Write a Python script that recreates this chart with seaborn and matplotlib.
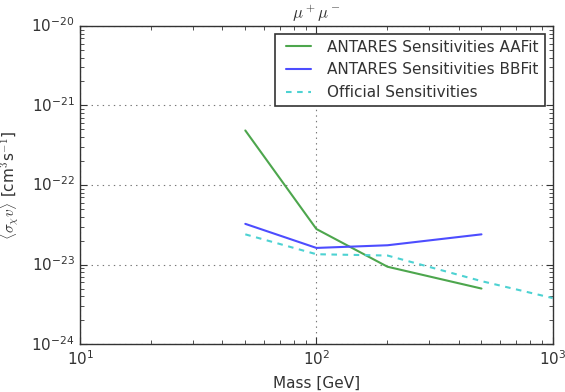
import matplotlib
matplotlib.use("Agg")
import matplotlib.pyplot as plt
import pandas as pd
import seaborn as sns
from matplotlib.ticker import LogLocator, NullFormatter

# sensitivities
mass_aafit = [50, 100, 200, 500]
sv_aafit = [4.85e-22, 2.8e-23, 9.4e-24, 5.0e-24]

mass_bbfit = [50, 100, 200, 500]
sv_bbfit = [3.25e-23, 1.62e-23, 1.75e-23, 2.4e-23]

mass_official = [50, 100, 200, 500, 1000]
sv_official = [2.4e-23, 1.35e-23, 1.3e-23, 6.2e-24, 3.8e-24]

labels = [
    "ANTARES Sensitivities AAFit",
    "ANTARES Sensitivities BBFit",
    "Official Sensitivities",
]

df = pd.concat(
    [
        pd.DataFrame({"mass": mass_aafit, "sv": sv_aafit, "set": labels[0]}),
        pd.DataFrame({"mass": mass_bbfit, "sv": sv_bbfit, "set": labels[1]}),
        pd.DataFrame({"mass": mass_official, "sv": sv_official, "set": labels[2]}),
    ]
)

plt.style.use("classic")
sns.set_style("ticks")
plt.rcParams["font.family"] = ["DejaVu Sans"]
plt.rcParams["text.color"] = "#333333"

fig, ax = plt.subplots(figsize=(5.65, 3.92), dpi=100)
fig.subplots_adjust(left=0.142, right=0.978, top=0.934, bottom=0.122)

palette = {labels[0]: "#4da64d", labels[1]: "#4d4dff", labels[2]: "#4dd2d2"}
dashes = {labels[0]: "", labels[1]: "", labels[2]: (4, 4)}
sns.lineplot(
    data=df, x="mass", y="sv", hue="set", style="set",
    palette=palette, dashes=dashes, linewidth=1.5, ax=ax, sort=False,
)

ax.set_xscale("log")
ax.set_yscale("log")
ax.set_xlim(10, 1000)
ax.set_ylim(1e-24, 1e-20)
for axis in (ax.xaxis, ax.yaxis):
    axis.set_major_locator(LogLocator(base=10, numticks=12))
    axis.set_minor_locator(LogLocator(base=10, subs=range(2, 10), numticks=12))
    axis.set_minor_formatter(NullFormatter())
ax.grid(True, which="major", linestyle=":", color="#777777", linewidth=0.8)
ax.grid(False, which="minor")
ax.tick_params(which="both", direction="in", top=True, right=True, labelsize=11,
               colors="#333333")
ax.tick_params(which="major", length=5, width=0.8)
ax.tick_params(which="minor", length=3, width=0.6)
for s in ax.spines.values():
    s.set_color("#333333")
    s.set_linewidth(1.0)

ax.set_xlabel("Mass [GeV]", fontsize=11, color="#333333")
ax.set_ylabel(r"$\langle\sigma_\chi v\rangle$ [cm$^3$s$^{-1}$]", fontsize=11,
              color="#333333")
ax.yaxis.set_label_coords(-0.125, 0.5)
ax.set_title(r"$\mu^+\mu^-$", fontsize=12)

leg = ax.legend(loc="upper right", fontsize=11, frameon=True, fancybox=False,
                framealpha=1, edgecolor="#333333", handlelength=2.2)
leg.get_frame().set_linewidth(1.2)

fig.savefig("out.png", dpi=100)
